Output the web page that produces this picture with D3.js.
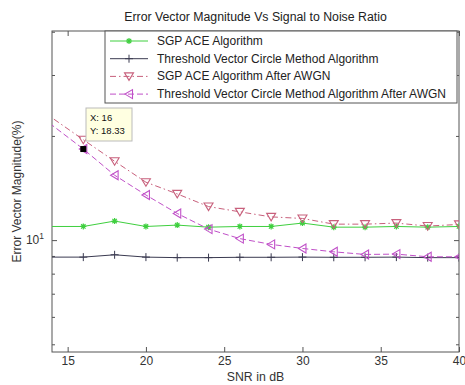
<!DOCTYPE html>
<html><head><meta charset="utf-8">
<script src="https://cdn.jsdelivr.net/npm/d3@7"></script>
<style>body{margin:0;background:#fff}svg{display:block}text{font-family:"Liberation Sans",Arial,sans-serif}</style>
</head><body>
<svg id="c" width="465" height="385"></svg>
<script>
const snr = [12,16,18,20,22,24,26,28,30,32,34,36,38,40];
const sgpAce = [10.95,10.95,11.35,10.95,11.05,10.9,10.95,10.95,11.2,10.9,10.9,10.95,10.9,10.95];
const tvcm = [8.93,8.93,9.07,8.93,8.9,8.9,8.92,8.92,8.93,8.92,8.92,8.93,8.9,8.9];
const sgpAwgn = [26.1,19.5,16.9,14.7,13.6,12.5,12.07,11.67,11.55,11.12,11.12,11.2,10.98,11.1];
const tvcmAwgn = [25.2,18.33,15.4,13.5,11.94,10.76,10.1,9.72,9.46,9.25,9.09,9.11,8.95,8.95];
const seriesNames = ["SGP ACE Algorithm","Threshold Vector Circle Method Algorithm","SGP ACE Algorithm After AWGN","Threshold Vector Circle Method Algorithm After AWGN"];
const xTicks = [15,20,25,30,35,40];
const yMinorTicks = [5,6,7,8,9,20,30,40];
const yMajorTicks = [10];
const titleText = "Error Vector Magnitude Vs Signal to Noise Ratio";
const xLabel = "SNR in dB";
const yLabel = "Error Vector Magnitude(%)";
const tip = {x:16, y:18.33};

const L=52,R=459,T=31,B=352;
const svg=d3.select("#c");
const x=d3.scaleLinear().domain([14,40]).range([L,R]);
const y=d3.scaleLog().domain([4.75,40.2]).range([B,T]);

svg.append("defs").append("clipPath").attr("id","clp").append("rect").attr("x",L).attr("y",T).attr("width",R-L).attr("height",B-T);

const axisCol="#555";
svg.append("rect").attr("x",L).attr("y",T).attr("width",R-L).attr("height",B-T).attr("fill","#fff").attr("stroke",axisCol).attr("stroke-width",1);

const xb=d3.axisBottom(x).tickValues(xTicks).tickSize(-5).tickPadding(4).tickFormat(d3.format("d"));
const gxb=svg.append("g").attr("transform",`translate(0,${B})`).call(xb);
const xt=d3.axisTop(x).tickValues(xTicks).tickSize(-5).tickFormat("");
const gxt=svg.append("g").attr("transform",`translate(0,${T})`).call(xt);
const ylM=d3.axisLeft(y).tickValues(yMajorTicks).tickSize(-5).tickFormat("");
const gyl=svg.append("g").attr("transform",`translate(${L},0)`).call(ylM);
const ylm=d3.axisLeft(y).tickValues(yMinorTicks).tickSize(-3).tickFormat("");
const gylm=svg.append("g").attr("transform",`translate(${L},0)`).call(ylm);
const yrM=d3.axisRight(y).tickValues(yMajorTicks).tickSize(-5).tickFormat("");
const gyr=svg.append("g").attr("transform",`translate(${R},0)`).call(yrM);
const yrm=d3.axisRight(y).tickValues(yMinorTicks).tickSize(-3).tickFormat("");
const gyrm=svg.append("g").attr("transform",`translate(${R},0)`).call(yrm);
[gxb,gxt,gyl,gylm,gyr,gyrm].forEach(g=>{g.select(".domain").remove();g.selectAll("line").attr("stroke",axisCol);g.selectAll("text").attr("fill","#333").attr("font-size",12);});
yMajorTicks.forEach(v=>{
  const t=svg.append("text").attr("x",L-8).attr("y",y(v)+4).attr("text-anchor","end").attr("font-size",12).attr("fill","#333");
  t.append("tspan").text("10");
  t.append("tspan").attr("font-size",8.5).attr("dy",-5).text(Math.round(Math.log10(v)));
});

svg.append("text").attr("x",(L+R)/2).attr("y",21).attr("text-anchor","middle").attr("font-size",12.3).attr("fill","#222").text(titleText);
svg.append("text").attr("x",(L+R)/2).attr("y",381).attr("text-anchor","middle").attr("font-size",12.3).attr("fill","#333").text(xLabel);
svg.append("text").attr("transform",`translate(21,${(T+B)/2}) rotate(-90)`).attr("text-anchor","middle").attr("font-size",12).attr("fill","#333").text(yLabel);

const series=[
 {v:sgpAce,color:"#3fcf3f",dash:null,marker:"star"},
 {v:tvcm,color:"#3a3a50",dash:null,marker:"plus"},
 {v:sgpAwgn,color:"#c8607c",dash:"6,3,1.5,3",marker:"tridown"},
 {v:tvcmAwgn,color:"#c050c8",dash:"6,3",marker:"trileft"}
];
const line=d3.line().x((d,i)=>x(snr[i])).y(d=>y(d));
const plot=svg.append("g").attr("clip-path","url(#clp)");

function drawMarker(g,type,cx,cy,color){
  if(type==="star"){
    g.append("path").attr("d",`M${cx-3},${cy}H${cx+3}M${cx},${cy-3}V${cy+3}M${cx-2.2},${cy-2.2}L${cx+2.2},${cy+2.2}M${cx-2.2},${cy+2.2}L${cx+2.2},${cy-2.2}`).attr("stroke",color).attr("stroke-width",1.2).attr("fill","none");
  } else if(type==="plus"){
    g.append("path").attr("d",`M${cx-4},${cy}H${cx+4}M${cx},${cy-4}V${cy+4}`).attr("stroke",color).attr("stroke-width",1).attr("fill","none");
  } else if(type==="tridown"){
    g.append("path").attr("d",`M${cx-4.5},${cy-3.5}L${cx+4.5},${cy-3.5}L${cx},${cy+4}Z`).attr("stroke",color).attr("stroke-width",1.1).attr("fill","none");
  } else {
    g.append("path").attr("d",`M${cx+3.5},${cy-4.5}L${cx+3.5},${cy+4.5}L${cx-4},${cy}Z`).attr("stroke",color).attr("stroke-width",1.1).attr("fill","none");
  }
}
series.forEach(s=>{
  plot.append("path").datum(s.v).attr("d",line).attr("fill","none").attr("stroke",s.color).attr("stroke-width",1).attr("stroke-dasharray",s.dash);
  s.v.forEach((d,i)=>drawMarker(plot,s.marker,x(snr[i]),y(d),s.color));
});

const lg=svg.append("g");
lg.append("rect").attr("x",105).attr("y",T).attr("width",352).attr("height",72).attr("fill","#fff").attr("stroke",axisCol);
series.forEach((s,i)=>{
  const ly=41+i*17.7;
  lg.append("line").attr("x1",110).attr("x2",148).attr("y1",ly).attr("y2",ly).attr("stroke",s.color).attr("stroke-dasharray",s.dash);
  drawMarker(lg,s.marker,129,ly,s.color);
  lg.append("text").attr("x",157).attr("y",ly+4).attr("font-size",12).attr("fill","#222").text(seriesNames[i]);
});

svg.append("rect").attr("x",x(tip.x)-3).attr("y",y(tip.y)-3).attr("width",6).attr("height",6).attr("fill","#000");
svg.append("rect").attr("x",86).attr("y",108).attr("width",46).attr("height",33).attr("fill","#ffffe1").attr("stroke","#bbb");
svg.append("text").attr("x",90).attr("y",121).attr("font-size",9.5).attr("fill","#111").text(`X: ${tip.x}`);
svg.append("text").attr("x",90).attr("y",134).attr("font-size",9.5).attr("fill","#111").text(`Y: ${tip.y}`);
</script>
</body></html>
